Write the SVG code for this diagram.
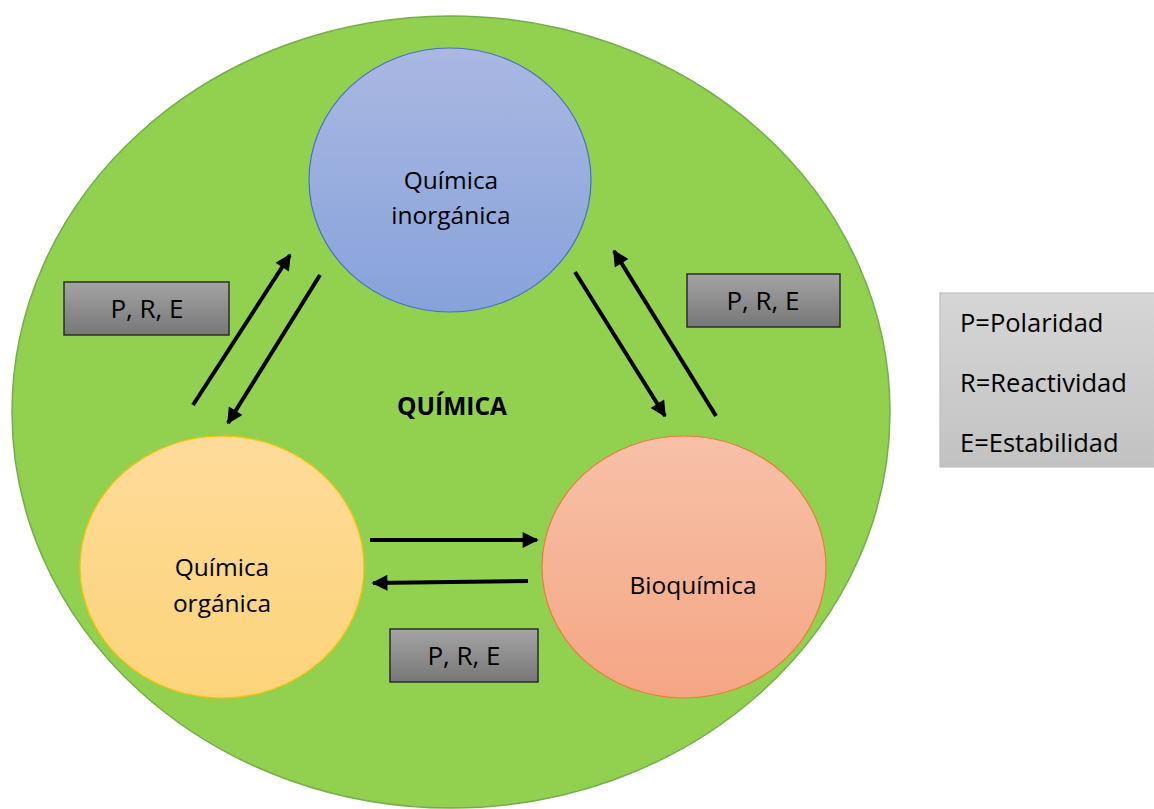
<svg xmlns="http://www.w3.org/2000/svg" width="1154" height="809" viewBox="0 0 1154 809">
  <defs>
    <linearGradient id="gBlue" x1="0" y1="0" x2="0" y2="1">
      <stop offset="0" stop-color="#aab8e2"/>
      <stop offset="1" stop-color="#87a2db"/>
    </linearGradient>
    <linearGradient id="gYellow" x1="0" y1="0" x2="0" y2="1">
      <stop offset="0" stop-color="#fedb9a"/>
      <stop offset="1" stop-color="#fdd47a"/>
    </linearGradient>
    <linearGradient id="gSalmon" x1="0" y1="0" x2="0" y2="1">
      <stop offset="0" stop-color="#f7c1a8"/>
      <stop offset="1" stop-color="#f5a684"/>
    </linearGradient>
    <linearGradient id="gGrey" x1="0" y1="0" x2="0" y2="1">
      <stop offset="0" stop-color="#a4a4a4"/>
      <stop offset="1" stop-color="#777777"/>
    </linearGradient>
    <linearGradient id="gLegend" x1="0" y1="0" x2="0" y2="1">
      <stop offset="0" stop-color="#d6d6d6"/>
      <stop offset="1" stop-color="#c2c2c2"/>
    </linearGradient>
    <marker id="arrow" viewBox="0 0 10 10" refX="9" refY="5" markerWidth="4.6" markerHeight="4" markerUnits="strokeWidth" orient="auto">
      <path d="M0,0 L10,5 L0,10 z" fill="#000"/>
    </marker>
    <style>
      .lbl { font-family: "Open Sans", "Noto Sans", "Liberation Sans", sans-serif; font-size: 24.5px; fill: #000; text-anchor: middle; }
      .tag { font-family: "Open Sans", "Noto Sans", "Liberation Sans", sans-serif; font-size: 26px; fill: #000; text-anchor: middle; }
      .box { fill: url(#gGrey); stroke: #2b2b2b; stroke-width: 1.5; }
      .conn { stroke: #000; stroke-width: 4; fill: none; marker-end: url(#arrow); }
      .leg { font-family: "Open Sans", "Noto Sans", "Liberation Sans", sans-serif; font-size: 25.5px; fill: #000; }
    </style>
  </defs>

  <rect width="1154" height="809" fill="#ffffff"/>

  <!-- outer domain -->
  <g id="quimica">
    <ellipse cx="451" cy="412" rx="439" ry="396" fill="#92d050" stroke="#74ad4a" stroke-width="1.5"/>
    <text x="452" y="415" class="lbl" style="font-weight:bold">QUÍMICA</text>
  </g>

  <g id="inorganica">
    <ellipse cx="450" cy="180" rx="141" ry="132" fill="url(#gBlue)" stroke="#4472c4" stroke-width="1.2"/>
    <text x="451" y="189" class="lbl">Química</text>
    <text x="451" y="224" class="lbl">inorgánica</text>
  </g>

  <g id="organica">
    <ellipse cx="222" cy="567" rx="142" ry="131" fill="url(#gYellow)" stroke="#ffc000" stroke-width="1.2"/>
    <text x="222" y="576" class="lbl">Química</text>
    <text x="222" y="612" class="lbl">orgánica</text>
  </g>

  <g id="bioquimica">
    <ellipse cx="684" cy="567" rx="142" ry="131" fill="url(#gSalmon)" stroke="#ed7d31" stroke-width="1.2"/>
    <text x="693" y="594" class="lbl">Bioquímica</text>
  </g>

  <g id="box-left">
    <rect x="64" y="282" width="165" height="53" class="box"/>
    <text x="147" y="318" class="tag">P, R, E</text>
  </g>

  <g id="box-right">
    <rect x="687" y="274" width="153" height="53" class="box"/>
    <text x="763" y="310" class="tag">P, R, E</text>
  </g>

  <g id="box-bottom">
    <rect x="390" y="629" width="148" height="53" class="box"/>
    <text x="464" y="665" class="tag">P, R, E</text>
  </g>

  <g id="legend">
    <rect x="940" y="293" width="220" height="174" fill="url(#gLegend)" stroke="#bdbdbd" stroke-width="1.2"/>
    <text x="960" y="332" class="leg">P=Polaridad</text>
    <text x="960" y="392" class="leg">R=Reactividad</text>
    <text x="960" y="452" class="leg">E=Estabilidad</text>
  </g>

  <g id="connectors">
    <line x1="193" y1="405" x2="290" y2="255" class="conn"/>
    <line x1="320" y1="275" x2="228" y2="423" class="conn"/>
    <line x1="575" y1="272" x2="665" y2="416" class="conn"/>
    <line x1="716" y1="416" x2="614" y2="251" class="conn"/>
    <line x1="370" y1="540" x2="537" y2="540" class="conn"/>
    <line x1="528" y1="581" x2="373" y2="583" class="conn"/>
  </g>
</svg>
